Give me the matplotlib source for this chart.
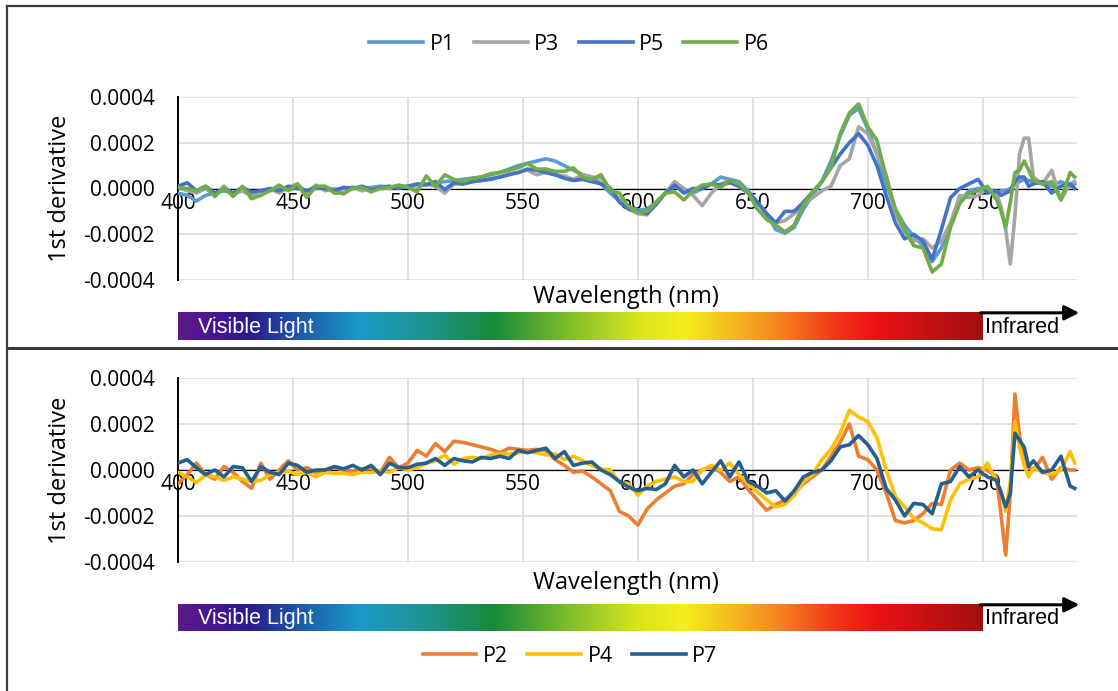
import numpy as np
import matplotlib
matplotlib.use('Agg')
import matplotlib.pyplot as plt
from matplotlib.colors import LinearSegmentedColormap
from matplotlib.lines import Line2D
from matplotlib.ticker import FormatStrFormatter, MultipleLocator

plt.rcParams['font.family'] = ['Open Sans', 'DejaVu Sans']
plt.rcParams['axes.unicode_minus'] = False

# 波长网格 (nm)，尖峰附近加密
wavelength = list(range(400, 757, 4)) + list(range(758, 773, 2)) + [776, 780, 784, 788, 790]

# 一阶导数，单位 1e-4
p1 = [-0.2, -0.3, -0.55, -0.3, -0.2, -0.1, -0.2, -0.1, -0.3, -0.1,
      -0.1, 0.0, -0.05, 0.05, -0.1, 0.0, 0.05, -0.05, 0.0, 0.05,
      0.0, 0.05, 0.1, 0.05, 0.1, 0.1, 0.15, 0.2, 0.25, 0.3,
      0.35, 0.4, 0.45, 0.5, 0.6, 0.7, 0.85, 1.0, 1.1, 1.2,
      1.3, 1.2, 1.0, 0.8, 0.6, 0.5, 0.2, -0.2, -0.55, -0.8,
      -0.95, -0.9, -0.6, -0.2, 0.1, -0.1, -0.2, 0.0, 0.2, 0.5,
      0.4, 0.3, -0.1, -0.6, -1.1, -1.8, -1.95, -1.7, -0.9, -0.3,
      0.3, 1.2, 2.3, 3.2, 3.5, 2.6, 1.5, 0.2, -0.9, -1.6,
      -2.1, -2.5, -3.2, -2.6, -1.6, -0.6, -0.1, 0.0, 0.0, -0.2,
      -0.1, -0.1, 0.0, 0.2, 0.3, 0.4, 0.35, 0.3,
      0.2, 0.1, 0.3, 0.1, 0.2]
p3 = [0.05, -0.1, -0.2, 0.0, -0.3, 0.1, -0.25, -0.1, -0.3, -0.1,
      0.0, -0.2, 0.05, 0.2, -0.2, 0.15, -0.1, 0.0, -0.25, 0.05,
      -0.1, 0.0, 0.05, 0.0, 0.1, 0.05, 0.1, 0.2, 0.1, -0.2,
      0.2, 0.2, 0.3, 0.35, 0.45, 0.5, 0.65, 0.7, 0.8, 0.6,
      0.7, 0.6, 0.55, 0.4, 0.6, 0.5, 0.45, 0.0, -0.5, -0.9,
      -1.1, -1.15, -0.6, -0.2, 0.3, 0.0, -0.3, -0.75, -0.2, 0.2,
      0.35, 0.1, -0.2, -0.6, -1.1, -1.5, -1.4, -1.1, -0.7, -0.4,
      -0.1, 0.1, 1.0, 1.3, 2.7, 2.4, 1.5, 0.6, -1.1, -1.9,
      -2.3, -2.2, -2.6, -2.3, -1.5, -0.3, -0.4, -0.3, 0.0, -0.2,
      -0.8, -1.8, -3.3, -1.2, 1.5, 2.2, 2.2, 0.5,
      0.2, 0.8, -0.5, 0.2, 0.3]
p5 = [0.1, 0.25, -0.1, 0.1, -0.2, 0.0, -0.2, 0.05, -0.15, -0.1,
      0.0, -0.1, 0.1, 0.0, -0.1, 0.05, 0.0, -0.1, 0.05, 0.0,
      0.1, -0.05, 0.05, 0.1, 0.0, 0.1, 0.2, 0.15, 0.3, -0.05,
      0.25, 0.2, 0.3, 0.35, 0.4, 0.5, 0.6, 0.7, 0.85, 0.8,
      0.7, 0.6, 0.45, 0.35, 0.4, 0.3, 0.2, 0.0, -0.6, -0.9,
      -1.0, -1.1, -0.7, -0.2, 0.15, -0.2, 0.0, 0.0, 0.2, 0.15,
      0.25, 0.1, -0.2, -0.6, -1.1, -1.5, -1.0, -1.0, -0.6, -0.15,
      0.3, 0.9, 1.5, 2.0, 2.4, 1.9, 1.0, -0.3, -1.5, -2.2,
      -2.0, -2.3, -3.1, -1.8, -0.4, 0.0, 0.2, 0.4, -0.2, -0.1,
      -0.3, -0.2, -0.1, 0.3, 0.5, 0.5, 0.1, 0.2,
      0.3, -0.2, 0.1, 0.2, 0.0]
p6 = [0.05, 0.0, -0.1, 0.1, -0.35, 0.05, -0.35, 0.1, -0.45, -0.3,
      -0.1, 0.15, -0.1, 0.2, -0.4, 0.1, 0.1, -0.2, -0.2, 0.0,
      0.05, -0.15, 0.0, 0.05, 0.15, 0.05, -0.15, 0.55, 0.1, 0.6,
      0.4, 0.3, 0.45, 0.5, 0.65, 0.7, 0.8, 0.9, 1.1, 0.85,
      0.85, 0.75, 0.75, 0.9, 0.5, 0.4, 0.6, -0.1, -0.2, -0.8,
      -1.05, -1.0, -0.6, -0.2, -0.15, -0.5, -0.1, 0.15, 0.2, 0.05,
      0.35, 0.2, -0.2, -0.9, -1.35, -1.6, -1.9, -1.6, -0.7, -0.15,
      0.3, 0.9, 2.4, 3.3, 3.7, 2.7, 2.1, 0.5, -0.9, -1.8,
      -2.5, -2.6, -3.65, -3.3, -1.7, -0.65, -0.2, -0.1, 0.1, -0.5,
      -1.0, -1.7, -0.6, 0.7, 0.8, 1.2, 0.8, 0.35,
      0.2, 0.3, -0.5, 0.7, 0.5]

p2 = [-0.6, -0.2, 0.3, -0.2, -0.4, 0.15, -0.1, -0.5, -0.8, 0.3,
      -0.4, 0.0, 0.4, 0.0, 0.1, -0.1, 0.0, 0.1, 0.0, -0.05,
      0.05, 0.1, -0.1, 0.55, 0.1, 0.3, 0.85, 0.6, 1.15, 0.8,
      1.25, 1.2, 1.1, 1.0, 0.9, 0.75, 0.95, 0.9, 0.85, 0.9,
      0.85, 0.45, 0.2, -0.1, -0.05, -0.3, -0.6, -0.9, -1.8, -2.0,
      -2.4, -1.7, -1.3, -1.0, -0.7, -0.6, -0.2, 0.0, 0.15, -0.1,
      -0.5, -0.3, -0.85, -1.3, -1.75, -1.5, -1.3, -1.0, -0.6, -0.3,
      0.0, 0.6, 1.2, 2.0, 0.6, 0.45, 0.0, -1.0, -2.2, -2.3,
      -2.2, -1.9, -1.45, -1.5, 0.0, 0.3, 0.0, 0.1, 0.0, -0.3,
      -2.0, -3.7, -1.0, 3.3, 1.5, 0.3, 0.1, 0.0,
      0.55, -0.4, 0.1, 0.0, 0.0]
p4 = [-0.1, -0.3, -0.55, -0.2, -0.3, -0.45, -0.3, -0.4, -0.5, -0.45,
      -0.2, -0.1, -0.05, -0.2, -0.1, -0.3, -0.1, -0.15, -0.15, -0.2,
      -0.1, -0.1, -0.05, -0.1, 0.1, 0.0, 0.1, 0.3, 0.4, 0.65,
      0.25, 0.5, 0.55, 0.5, 0.65, 0.7, 0.7, 0.75, 0.8, 0.75,
      0.65, 0.7, 0.45, 0.6, 0.4, 0.2, 0.05, 0.0, -0.55, -0.6,
      -1.1, -0.7, -0.5, -0.4, -0.3, -0.5, -0.5, 0.0, 0.2, 0.0,
      0.3, -0.2, -0.6, -0.95, -1.3, -1.6, -1.5, -1.1, -0.5, -0.2,
      0.45, 0.9, 1.6, 2.6, 2.3, 2.1, 1.4, 0.0, -1.15, -1.6,
      -2.1, -2.3, -2.55, -2.6, -1.3, -0.6, -0.4, -0.3, 0.3, -0.5,
      -0.9, -1.8, -0.5, 2.1, 1.0, 0.2, -0.3, 0.1,
      -0.1, -0.2, 0.0, 0.8, 0.3]
p7 = [0.3, 0.45, 0.1, -0.2, 0.0, -0.3, 0.15, 0.1, -0.5, 0.15,
      -0.1, -0.2, 0.3, 0.2, -0.1, 0.0, 0.0, 0.15, 0.05, 0.2,
      0.0, 0.2, -0.2, 0.3, 0.1, 0.1, 0.25, 0.3, 0.5, 0.2,
      0.5, 0.4, 0.35, 0.55, 0.5, 0.6, 0.5, 0.85, 0.75, 0.85,
      0.95, 0.5, 0.8, 0.2, 0.3, 0.35, 0.0, -0.2, -0.5, -0.75,
      -0.9, -0.8, -0.85, -0.6, 0.2, -0.3, 0.0, -0.6, -0.1, 0.4,
      -0.3, 0.35, -0.5, -0.7, -1.0, -0.9, -1.35, -0.9, -0.3, -0.1,
      0.0, 0.4, 1.0, 1.1, 1.5, 1.1, 0.5, -0.8, -1.3, -2.0,
      -1.45, -1.5, -1.9, -0.6, -0.5, 0.15, -0.3, 0.0, -0.3, -0.45,
      -1.0, -1.6, -1.0, 1.6, 1.3, 1.0, 0.15, 0.4,
      -0.1, 0.0, 0.6, -0.7, -0.8]

top_series = [('P1', p1, '#5B9BD5'), ('P3', p3, '#A5A5A5'),
              ('P5', p5, '#4472C4'), ('P6', p6, '#70AD47')]
bottom_series = [('P2', p2, '#ED7D31'), ('P4', p4, '#FFC000'),
                 ('P7', p7, '#255E91')]

# 光谱色条
spec_stops = [(400, '#5E1A8B'), (414, '#4A1590'), (431, '#2A1C8C'), (453, '#1D5BA6'),
              (479, '#1A9AC8'), (505, '#1E9595'), (537, '#178A3A'), (570, '#7FBE2A'),
              (600, '#D8E41E'), (620, '#F5EE1C'), (645, '#F5B01E'), (665, '#F57A1E'),
              (685, '#F23A18'), (703, '#EE1212'), (750, '#A01010')]
spec_cmap = LinearSegmentedColormap.from_list(
    'spec', [((w - 400) / 350, c) for w, c in spec_stops])

W, H = 1118, 691
fig = plt.figure(figsize=(W / 100, H / 100), dpi=100)


def fx(px):
    return px / W


def fy(py):
    return 1 - py / H


def style(ax):
    ax.set_xlim(400, 791)
    ax.set_ylim(-0.0004, 0.0004)
    ax.xaxis.set_major_locator(MultipleLocator(50))
    ax.yaxis.set_major_locator(MultipleLocator(0.0002))
    ax.yaxis.set_major_formatter(FormatStrFormatter('%.4f'))
    ax.grid(True, color='#d9d9d9', lw=1.1)
    ax.set_axisbelow(True)
    for s in ['top', 'right']:
        ax.spines[s].set_visible(False)
    ax.spines['bottom'].set_position(('data', 0))
    ax.spines['bottom'].set_linewidth(0.9)
    ax.spines['left'].set_linewidth(1.4)
    ax.tick_params(axis='x', length=0, pad=3, labelsize=15)
    ax.tick_params(axis='y', length=0, pad=17, labelsize=15)


def spectrum_bar(cax):
    grad = np.linspace(0, 1, 512).reshape(1, -1)
    cax.imshow(grad, cmap=spec_cmap, aspect='auto', extent=[400, 750, 0, 1])
    cax.set_xlim(400, 791)
    cax.set_ylim(0, 1)
    cax.axis('off')
    cax.annotate('', xy=(792, 0.97), xytext=(749, 0.97), annotation_clip=False,
                 arrowprops=dict(arrowstyle='-|>', color='black', lw=2.2,
                                 mutation_scale=22, shrinkA=0, shrinkB=0))
    cax.text(408.5, 0.45, 'Visible Light', color='white', fontsize=15.5,
             family='Liberation Sans', va='center', ha='left')
    cax.text(751, 0.45, 'Infrared', color='black', fontsize=15.5,
             family='Liberation Sans', va='center', ha='left')


ax1 = fig.add_axes([fx(178), fy(280), fx(1077) - fx(178), fy(97) - fy(280)])
ax2 = fig.add_axes([fx(178), fy(562), fx(1077) - fx(178), fy(378) - fy(562)])
cb1 = fig.add_axes([fx(178), fy(340), fx(1077) - fx(178), fy(312) - fy(340)])
cb2 = fig.add_axes([fx(178), fy(631), fx(1077) - fx(178), fy(604) - fy(631)])

handles1 = []
for name, vals, col in top_series:
    h, = ax1.plot(wavelength, np.array(vals) * 1e-4, color=col, lw=2.6,
                  label=name, zorder=3)
    handles1.append(h)
handles2 = []
for name, vals, col in bottom_series:
    h, = ax2.plot(wavelength, np.array(vals) * 1e-4, color=col, lw=2.6,
                  label=name, zorder=3)
    handles2.append(h)

for ax, yc in [(ax1, 188), (ax2, 470)]:
    style(ax)
    fig.text(fx(60), fy(yc), '1st derivative', rotation=90, fontsize=17,
             ha='center', va='center')
fig.text(fx(626), fy(297), 'Wavelength (nm)', fontsize=17, ha='center', va='center')
fig.text(fx(626), fy(583), 'Wavelength (nm)', fontsize=17, ha='center', va='center')

spectrum_bar(cb1)
spectrum_bar(cb2)

leg_kw = dict(loc='center', frameon=False, fontsize=15.5, handlelength=2.5,
              handletextpad=0.3, columnspacing=0.9)
fig.legend(handles=handles1, ncol=4, bbox_to_anchor=(fx(569), fy(44)), **leg_kw)
fig.legend(handles=handles2, ncol=3, bbox_to_anchor=(fx(570), fy(656)), **leg_kw)

# 外框
for xs, ys, lw in [([fx(7), 1], [fy(6), fy(6)], 1.6),
                   ([fx(7), fx(7)], [0, fy(6)], 1.6),
                   ([fx(7), 1], [fy(348), fy(348)], 2.2)]:
    fig.add_artist(Line2D(xs, ys, transform=fig.transFigure, color='#3a3a3a', lw=lw))

fig.savefig('out.png', dpi=100)
